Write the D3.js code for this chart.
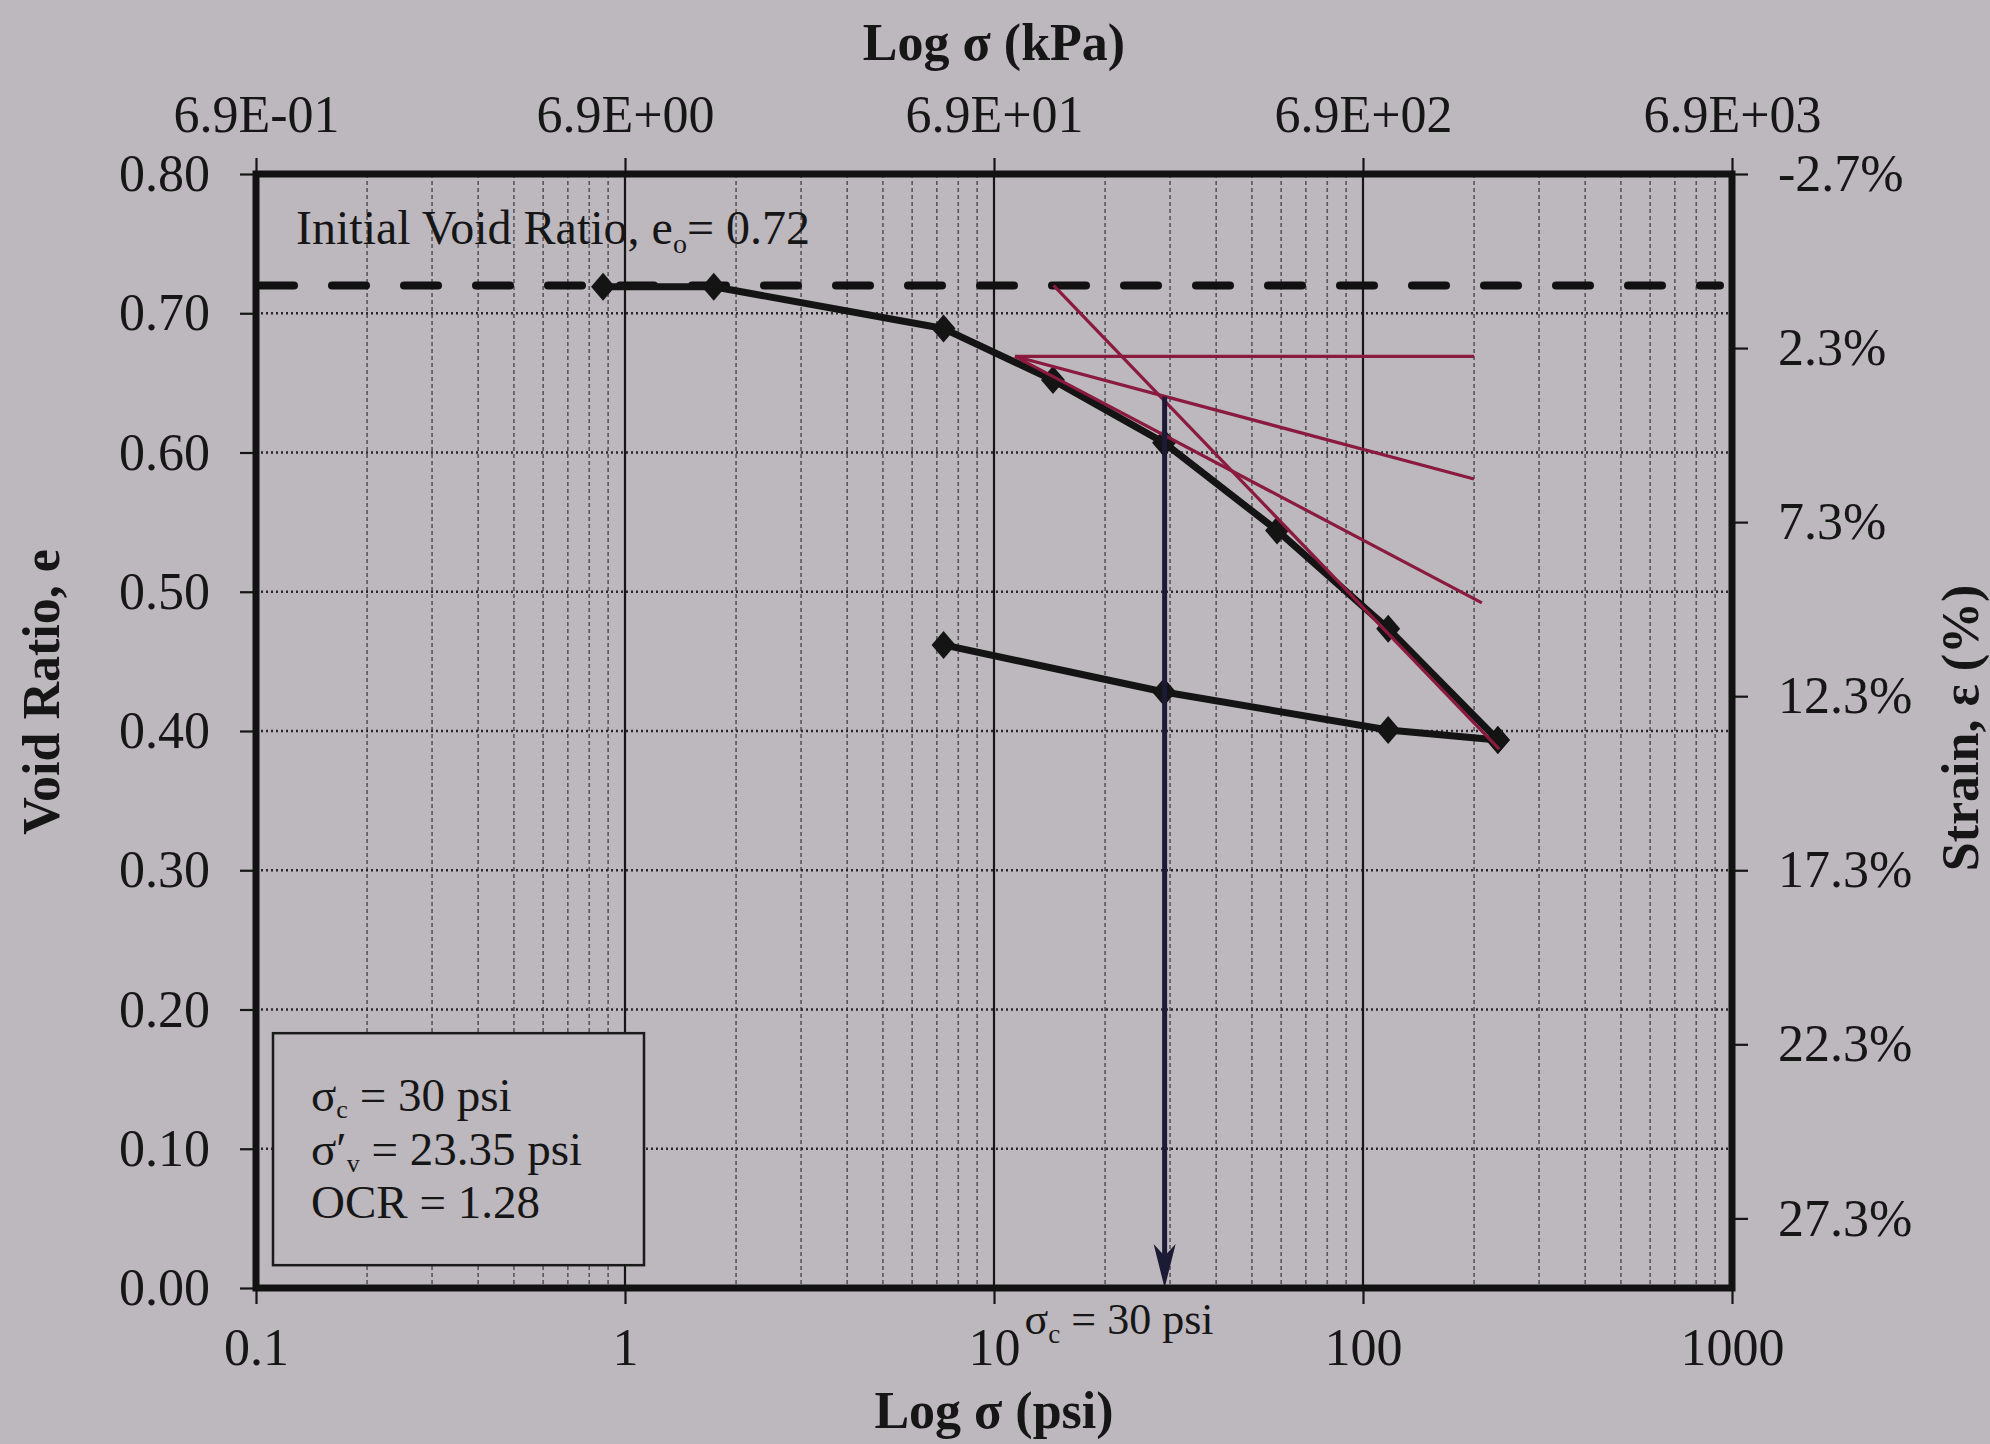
<!DOCTYPE html>
<html>
<head>
<meta charset="utf-8">
<script src="https://cdn.jsdelivr.net/npm/d3@7"></script>
<style>
  body { margin: 0; background: #bdb7be; }
  text { font-family: "Liberation Serif", "Times New Roman", serif; fill: #161616; }
</style>
</head>
<body>
<div id="chart"></div>
<script>
// loading / unloading readings (psi, void ratio)
const loadPsi = [0.872, 1.74, 7.3, 14.45, 28.9, 58.5, 117, 232];
const loadE = [0.719, 0.719, 0.689, 0.652, 0.607, 0.544, 0.4735, 0.3935];
const unloadPsi = [232, 117, 28.9, 7.3];
const unloadE = [0.3935, 0.4007, 0.428, 0.4618];
const e0 = 0.72;

// Casagrande construction lines [psi, e]
const horizLine = [[11.4, 0.669], [200, 0.669]];
const bisectLine = [[11.4, 0.669], [200, 0.581]];
const tangentLine = [[11.4, 0.669], [210, 0.492]];
const vclLine = [[14.5, 0.72], [234, 0.387]];
const sigmaC = [29, 0.640];

// tick labels
const psiTicks = [0.1, 1, 10, 100, 1000];
const psiLabels = ["0.1", "1", "10", "100", "1000"];
const kpaTicks = [0.69, 6.9, 69, 690, 6900];
const kpaLabels = ["6.9E-01", "6.9E+00", "6.9E+01", "6.9E+02", "6.9E+03"];
const eTicks = [0, 0.1, 0.2, 0.3, 0.4, 0.5, 0.6, 0.7, 0.8];
const strainTicks = [-2.7, 2.3, 7.3, 12.3, 17.3, 22.3, 27.3];

const margin = {top: 174, right: 258, bottom: 156, left: 256},
    width = 1990 - margin.left - margin.right,
    height = 1444 - margin.top - margin.bottom;

const svgRoot = d3.select("#chart")
    .append("svg")
    .attr("width", 1990)
    .attr("height", 1444);

svgRoot.append("rect").attr("width", 1990).attr("height", 1444).attr("fill", "#bdb7be");

const svg = svgRoot.append("g")
    .attr("transform", `translate(${margin.left},${margin.top})`);

const x = d3.scaleLog().domain([0.1, 1000]).range([0, width]);
const xk = d3.scaleLog().domain([0.69, 6900]).range([0, width]);
const y = d3.scaleLinear().domain([0, 0.8]).range([height, 0]);
const yS = d3.scaleLinear().domain([29.3, -2.7]).range([height, 0]);

// minor vertical grid
const minor = [];
[0.1, 1, 10, 100].forEach(d => { for (let k = 2; k <= 9; k++) minor.push(d * k); });
svg.append("g").selectAll("line")
    .data(minor)
    .join("line")
    .attr("x1", d => x(d)).attr("x2", d => x(d))
    .attr("y1", 0).attr("y2", height)
    .attr("stroke", "#5a565c")
    .attr("stroke-width", 1.6)
    .attr("stroke-dasharray", "4,3");

// horizontal dotted grid
svg.append("g").selectAll("line")
    .data(eTicks.slice(1, -1))
    .join("line")
    .attr("x1", 0).attr("x2", width)
    .attr("y1", d => y(d)).attr("y2", d => y(d))
    .attr("stroke", "#2a272c")
    .attr("stroke-width", 2.4)
    .attr("stroke-dasharray", "2,3");

// decade lines
svg.append("g").selectAll("line")
    .data(psiTicks.slice(1, -1))
    .join("line")
    .attr("x1", d => x(d)).attr("x2", d => x(d))
    .attr("y1", 0).attr("y2", height)
    .attr("stroke", "#151515")
    .attr("stroke-width", 2.2);

// axes
const fs = 52;
function styleAxis(g) {
    g.select(".domain").remove();
    g.selectAll(".tick line").attr("stroke", "#151515").attr("stroke-width", 2.2);
    g.selectAll(".tick text").attr("font-size", fs).attr("fill", "#161616")
        .style("font-family", '"Liberation Serif", serif');
}
svg.append("g")
    .attr("transform", `translate(0,${height})`)
    .call(d3.axisBottom(x).tickValues(psiTicks).tickFormat((d, i) => psiLabels[i]).tickSize(16).tickPadding(24))
    .call(styleAxis);
svg.append("g")
    .call(d3.axisTop(xk).tickValues(kpaTicks).tickFormat((d, i) => kpaLabels[i]).tickSize(16).tickPadding(26))
    .call(styleAxis);
svg.append("g")
    .call(d3.axisLeft(y).tickValues(eTicks).tickFormat(d3.format(".2f")).tickSize(16).tickPadding(30))
    .call(styleAxis);
svg.append("g")
    .attr("transform", `translate(${width},0)`)
    .call(d3.axisRight(yS).tickValues(strainTicks).tickFormat(d => d.toFixed(1) + "%").tickSize(16).tickPadding(30))
    .call(styleAxis);

// legend box (covers grid)
const box = svg.append("g").attr("transform", `translate(17,${y(0.183)})`);
box.append("rect")
    .attr("width", 371).attr("height", 232)
    .attr("fill", "#bdb7be")
    .attr("stroke", "#1a1a1a")
    .attr("stroke-width", 2.5);
const boxFs = 47;
const l1 = box.append("text").attr("x", 38).attr("y", 78).attr("font-size", boxFs);
l1.append("tspan").text("σ");
l1.append("tspan").attr("font-size", 26).attr("dy", 7).text("c");
l1.append("tspan").attr("dy", -7).text(" = 30 psi");
const l2 = box.append("text").attr("x", 38).attr("y", 132).attr("font-size", boxFs);
l2.append("tspan").text("σ′");
l2.append("tspan").attr("font-size", 26).attr("dy", 7).text("v");
l2.append("tspan").attr("dy", -7).text(" = 23.35 psi");
box.append("text").attr("x", 38).attr("y", 185).attr("font-size", boxFs).text("OCR = 1.28");

// initial void ratio dashed line
svg.append("line")
    .attr("x1", 4).attr("x2", width - 12)
    .attr("y1", y(e0)).attr("y2", y(e0))
    .attr("stroke", "#111")
    .attr("stroke-width", 8)
    .attr("stroke-linecap", "round")
    .attr("stroke-dasharray", "34,38");

const t0 = svg.append("text").attr("x", 40).attr("y", 70).attr("font-size", 48);
t0.append("tspan").text("Initial Void Ratio, e");
t0.append("tspan").attr("font-size", 28).attr("dy", 9).text("o");
t0.append("tspan").attr("dy", -9).text("= 0.72");

// consolidation curve
const line = d3.line().x(d => x(d[0])).y(d => y(d[1]));
const loadPts = loadPsi.map((p, i) => [p, loadE[i]]);
const unloadPts = unloadPsi.map((p, i) => [p, unloadE[i]]);
[loadPts, unloadPts].forEach(pts => {
    svg.append("path")
        .datum(pts)
        .attr("fill", "none")
        .attr("stroke", "#141414")
        .attr("stroke-width", 7)
        .attr("stroke-linejoin", "round")
        .attr("d", line);
});
svg.append("g").selectAll("path")
    .data(loadPts.concat(unloadPts))
    .join("path")
    .attr("transform", d => `translate(${x(d[0])},${y(d[1])})`)
    .attr("d", "M0,-14L12,0L0,14L-12,0Z")
    .attr("fill", "#141414");

// construction lines
[horizLine, bisectLine, tangentLine, vclLine].forEach(pts => {
    svg.append("path")
        .datum(pts)
        .attr("fill", "none")
        .attr("stroke", "#8a1a3e")
        .attr("stroke-width", 3.2)
        .attr("d", line);
});

// preconsolidation arrow
svg.append("line")
    .attr("x1", x(sigmaC[0])).attr("x2", x(sigmaC[0]))
    .attr("y1", y(sigmaC[1])).attr("y2", height - 30)
    .attr("stroke", "#1c1b36")
    .attr("stroke-width", 5);
svg.append("path")
    .attr("transform", `translate(${x(sigmaC[0])},${height})`)
    .attr("d", "M0,0L-11,-44L0,-32L11,-44Z")
    .attr("fill", "#1c1b36");

const tc = svg.append("text").attr("x", x(sigmaC[0]) - 140).attr("y", height + 46).attr("font-size", 44);
tc.append("tspan").text("σ");
tc.append("tspan").attr("font-size", 27).attr("dy", 9).text("c");
tc.append("tspan").attr("dy", -9).text(" = 30 psi");

// frame
svg.append("rect")
    .attr("width", width).attr("height", height)
    .attr("fill", "none")
    .attr("stroke", "#121212")
    .attr("stroke-width", 7);

// axis titles
svgRoot.append("text")
    .attr("x", margin.left + width / 2).attr("y", 60)
    .attr("text-anchor", "middle").attr("font-size", 52).attr("font-weight", "bold")
    .text("Log σ (kPa)");
svgRoot.append("text")
    .attr("x", margin.left + width / 2).attr("y", 1428)
    .attr("text-anchor", "middle").attr("font-size", 52).attr("font-weight", "bold")
    .text("Log σ (psi)");
svgRoot.append("text")
    .attr("transform", "translate(59,692) rotate(-90)")
    .attr("text-anchor", "middle").attr("font-size", 52).attr("font-weight", "bold")
    .text("Void Ratio, e");
svgRoot.append("text")
    .attr("transform", "translate(1978,728) rotate(-90)")
    .attr("text-anchor", "middle").attr("font-size", 52).attr("font-weight", "bold")
    .text("Strain, ε (%)");
</script>
</body>
</html>
